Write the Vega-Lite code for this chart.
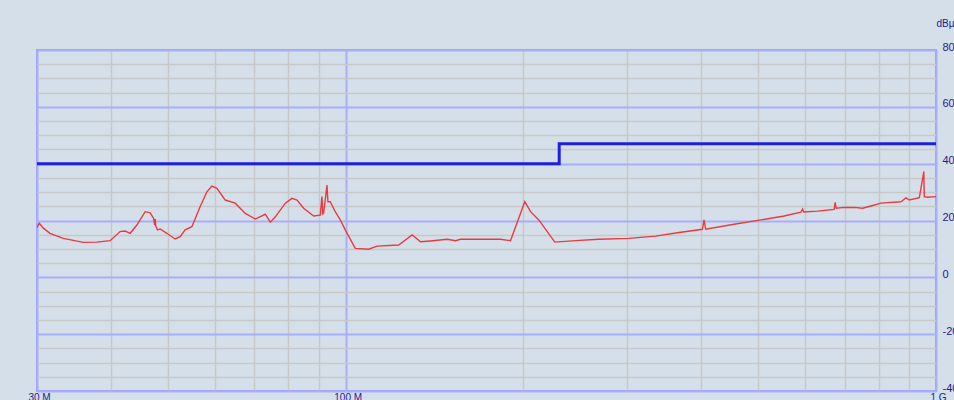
{
  "$schema": "https://vega.github.io/schema/vega-lite/v6.json",
  "autosize": {"type": "none"},
  "padding": {"left": 37, "top": 50, "right": 18, "bottom": 9},
  "width": 899,
  "height": 341,
  "background": "#d4dfea",
  "config": {
    "view": {"fill": "#d4dfea", "stroke": "#9d9dfc", "strokeWidth": 2},
    "font": "Liberation Sans"
  },
  "datasets": {
    "trace": [
      {"f": 30.0, "v": 17.6}, {"f": 30.27, "v": 19.0}, {"f": 30.75, "v": 17.3}, {"f": 31.56, "v": 15.5},
      {"f": 33.24, "v": 13.7}, {"f": 35.94, "v": 12.3}, {"f": 37.88, "v": 12.4}, {"f": 39.9, "v": 12.9},
      {"f": 41.49, "v": 16.1}, {"f": 42.31, "v": 16.3}, {"f": 43.15, "v": 15.5}, {"f": 44.29, "v": 18.4},
      {"f": 45.75, "v": 23.1}, {"f": 46.65, "v": 22.7}, {"f": 47.26, "v": 20.8}, {"f": 47.48, "v": 18.4},
      {"f": 47.57, "v": 20.5}, {"f": 47.67, "v": 18.1}, {"f": 47.99, "v": 16.7}, {"f": 48.5, "v": 17.0},
      {"f": 49.78, "v": 15.5}, {"f": 51.42, "v": 13.5}, {"f": 52.44, "v": 14.3}, {"f": 53.47, "v": 16.7},
      {"f": 54.89, "v": 17.8}, {"f": 56.7, "v": 24.9}, {"f": 58.2, "v": 30.1}, {"f": 59.35, "v": 32.1},
      {"f": 60.52, "v": 31.3}, {"f": 62.52, "v": 27.2}, {"f": 65.01, "v": 26.1}, {"f": 67.6, "v": 22.5},
      {"f": 70.29, "v": 20.5}, {"f": 73.09, "v": 22.2}, {"f": 74.54, "v": 19.4}, {"f": 76.01, "v": 21.3},
      {"f": 79.03, "v": 26.1}, {"f": 81.13, "v": 27.8}, {"f": 82.73, "v": 27.2}, {"f": 84.89, "v": 24.3},
      {"f": 88.27, "v": 21.6}, {"f": 90.56, "v": 21.9}, {"f": 91.16, "v": 28.4}, {"f": 91.45, "v": 22.3},
      {"f": 91.73, "v": 22.5}, {"f": 92.34, "v": 27.2}, {"f": 92.96, "v": 32.5}, {"f": 93.32, "v": 26.6},
      {"f": 94.16, "v": 26.6}, {"f": 96.02, "v": 23.1}, {"f": 97.91, "v": 20.2}, {"f": 99.84, "v": 16.7},
      {"f": 103.8, "v": 10.2}, {"f": 109.4, "v": 9.9}, {"f": 113.0, "v": 11.0}, {"f": 123.0, "v": 11.4},
      {"f": 129.6, "v": 14.9}, {"f": 133.9, "v": 12.5}, {"f": 139.2, "v": 12.8}, {"f": 148.6, "v": 13.4},
      {"f": 153.5, "v": 12.9}, {"f": 156.5, "v": 13.4}, {"f": 182.9, "v": 13.4}, {"f": 190.2, "v": 12.9},
      {"f": 201.1, "v": 26.6}, {"f": 205.7, "v": 23.1}, {"f": 212.4, "v": 20.2}, {"f": 226.1, "v": 12.4},
      {"f": 245.2, "v": 12.9}, {"f": 268.5, "v": 13.4}, {"f": 301.9, "v": 13.7}, {"f": 335.0, "v": 14.5},
      {"f": 364.7, "v": 15.7}, {"f": 402.1, "v": 16.9}, {"f": 404.6, "v": 20.2}, {"f": 407.3, "v": 16.9},
      {"f": 454.9, "v": 18.7}, {"f": 504.9, "v": 20.2}, {"f": 553.1, "v": 21.6}, {"f": 590.3, "v": 22.9},
      {"f": 594.2, "v": 24.0}, {"f": 597.0, "v": 23.0}, {"f": 630.1, "v": 23.3}, {"f": 672.2, "v": 23.9},
      {"f": 674.9, "v": 26.4}, {"f": 677.5, "v": 24.3}, {"f": 699.0, "v": 24.6}, {"f": 726.8, "v": 24.6},
      {"f": 751.0, "v": 24.3}, {"f": 775.8, "v": 25.1}, {"f": 806.7, "v": 26.1}, {"f": 872.3, "v": 26.6},
      {"f": 889.5, "v": 28.0}, {"f": 901.1, "v": 27.2}, {"f": 937.0, "v": 28.0}, {"f": 953.6, "v": 37.2},
      {"f": 955.4, "v": 28.4}, {"f": 968.2, "v": 28.2}, {"f": 1000, "v": 28.4}
    ],
    "limit": [
      {"i": 0, "f": 30, "v": 40}, {"i": 1, "f": 230, "v": 40}, {"i": 2, "f": 230, "v": 47}, {"i": 3, "f": 1000, "v": 47}
    ]
  },
  "resolve": {"axis": {"x": "independent", "y": "independent"}},
  "layer": [
    {
      "data": {"name": "limit"},
      "mark": {"type": "line", "color": "#1f1fe0", "strokeWidth": 3, "clip": true},
      "encoding": {
        "x": {"field": "f", "type": "quantitative",
          "scale": {"type": "log", "domain": [30, 1000], "nice": false},
          "axis": {"orient": "top", "values": [40, 50, 60, 70, 80, 90, 200, 300, 400, 500, 600, 700, 800, 900],
            "grid": true, "gridColor": "#c8c8c8", "gridWidth": 1.5, "labels": false, "ticks": false, "domain": false, "title": null}},
        "y": {"field": "v", "type": "quantitative",
          "scale": {"domain": [-40, 80], "nice": false, "zero": false},
          "axis": {"orient": "left", "values": [-35, -30, -25, -15, -10, -5, 5, 10, 15, 25, 30, 35, 45, 50, 55, 65, 70, 75],
            "grid": true, "gridColor": "#c8c8c8", "gridWidth": 1.5, "labels": false, "ticks": false, "domain": false, "title": null}},
        "order": {"field": "i", "type": "quantitative"}
      }
    },
    {
      "data": {"name": "trace"},
      "mark": {"type": "line", "color": "#ea3a3e", "strokeWidth": 1.4, "clip": true},
      "encoding": {
        "x": {"field": "f", "type": "quantitative",
          "scale": {"type": "log", "domain": [30, 1000], "nice": false},
          "axis": {"orient": "bottom", "values": [30, 100, 1000], "grid": true, "gridColor": "#a8aef7", "gridWidth": 2,
            "ticks": false, "domain": false, "title": null, "labelPadding": 1, "labelOffset": 2,
            "labelBaseline": "top", "labelFontSize": 10, "labelColor": "#1c1c90", "labelFlush": false,
            "labelExpr": "datum.value == 1000 ? '1 G' : datum.value + ' M'"}},
        "y": {"field": "v", "type": "quantitative",
          "scale": {"domain": [-40, 80], "nice": false, "zero": false},
          "axis": {"orient": "right", "values": [-40, -20, 0, 20, 40, 60, 80], "grid": true, "gridColor": "#a8aef7", "gridWidth": 2,
            "ticks": false, "domain": false, "labelPadding": 6, "labelAlign": "left", "labelBaseline": "alphabetic",
            "labelFontSize": 11, "labelColor": "#1c1c90", "labelFlush": false,
            "labelExpr": "datum.value < 0 ? '-' + abs(datum.value) : '' + datum.value",
            "title": "dBµV", "titleAngle": 0, "titleAlign": "left", "titleBaseline": "middle",
            "titleX": 0, "titleY": -27, "titleFontSize": 10, "titleFontWeight": "normal", "titleColor": "#1c1c90"}}
      }
    }
  ]
}
